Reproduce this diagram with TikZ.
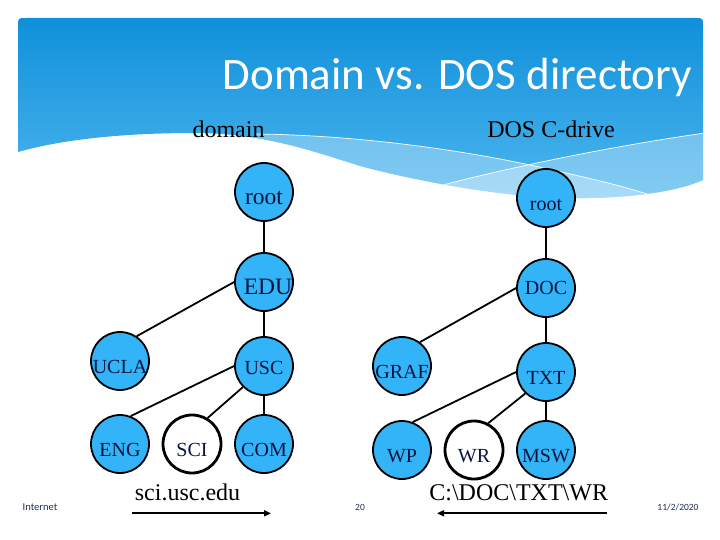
\documentclass[tikz,border=0pt]{standalone}
\usepackage{fontspec}
\setmainfont{Liberation Serif}
\newfontfamily\titlefont{Carlito}
\usetikzlibrary{arrows.meta}
\definecolor{nodeblue}{HTML}{33B4F8}
\definecolor{navy}{HTML}{0A1540}
\definecolor{hdrtop}{HTML}{1090DA}
\definecolor{hdrbot}{HTML}{4DB6EF}
\definecolor{footc}{HTML}{1F2F55}
\newcommand\fsA{\fontsize{23.5}{26}\selectfont}
\newcommand\fsB{\fontsize{20}{23}\selectfont}
\newcommand\fsC{\fontsize{24}{27}\selectfont}
\begin{document}
\begin{tikzpicture}[x=1pt,y=-1pt,
  dnode/.style={circle, draw=black, line width=1.8pt, fill=nodeblue, minimum size=58pt, inner sep=0pt},
  wnode/.style={dnode, fill=white, line width=2.8pt},
  lab/.style={text=navy, inner sep=0pt, yshift=-6pt, font=\fsB},
  labA/.style={lab, font=\fsA},
  edge/.style={line width=1.8pt},
  arr/.style={line width=1.8pt, -{Triangle[length=7pt,width=6pt]}},
  hdrlab/.style={anchor=base, font=\fsC, text=black, inner sep=0pt},
  foot/.style={font=\titlefont\fontsize{9.5}{11}\selectfont, text=footc, inner sep=0pt}
]
\useasboundingbox (0,0) rectangle (720,540);
\fill[white] (0,0) rectangle (720,540);

% header
\def\hdrpath{(18,152) -- (18,26) .. controls (18,18) .. (26,18) -- (695,18) .. controls (703,18) .. (703,26) -- (703,180)
  .. controls (670,195) and (610,199) .. (560,198)
  .. controls (500,196) and (420,182) .. (360,166)
  .. controls (310,150) and (260,133) .. (195,133)
  .. controls (120,133) and (60,140) .. (18,152) -- cycle}
\shade[top color=hdrtop, bottom color=hdrbot] \hdrpath;
\begin{scope}
  \clip \hdrpath;
  \fill[white, opacity=0.3] (255,134) .. controls (350,135) and (450,148) .. (530,165)
     .. controls (580,176) and (620,185) .. (650,195) -- (650,260) -- (255,260) -- cycle;
  \fill[white, opacity=0.3] (443,185) .. controls (500,170) and (600,148) .. (705,133)
     -- (705,260) -- (443,260) -- cycle;
  \draw[white, line width=0.7pt] (255,134) .. controls (350,135) and (450,148) .. (530,165)
     .. controls (580,176) and (620,185) .. (650,195);
  \draw[white, line width=0.7pt] (443,185) .. controls (500,170) and (600,148) .. (705,133);
\end{scope}

\node[anchor=base east, text=white, inner sep=0pt, font=\titlefont\fontsize{45}{50}\selectfont] (title) at (692,90) {Domain vs. DOS directory};
\node[hdrlab] (hdom) at (228.5,137.3) {domain};
\node[hdrlab] (hdos) at (551,137.3) {DOS C-drive};

% left tree
\node[dnode, label={[labA]center:root}] (r1) at (264,192) {};
\node[dnode, label={[labA, yshift=1pt, xshift=4pt]center:EDU}] (edu) at (264,282) {};
\node[dnode, label={[lab]center:UCLA}] (ucla) at (120,361) {};
\node[dnode, label={[lab, yshift=4.5pt]center:USC}] (usc) at (264,366) {};
\node[dnode, label={[lab]center:ENG}] (eng) at (120,444) {};
\node[wnode, label={[lab]center:SCI}] (sci) at (192,444) {};
\node[dnode, label={[lab]center:COM}] (com) at (264,444) {};

\draw[edge] (r1.south) -- (edu.north);
\draw[edge] (edu.west) -- (ucla.56);
\draw[edge] (edu.south) -- (usc.north);
\draw[edge] (usc.west) -- (eng.69);
\draw[edge] (usc.225) -- (sci.59);
\draw[edge] (usc.south) -- (com.north);

% right tree
\node[dnode, label={[lab, yshift=-0.5pt]center:root}] (r2) at (546,198) {};
\node[dnode, label={[lab, yshift=6pt]center:DOC}] (doc) at (546,288) {};
\node[dnode, label={[lab]center:GRAF}] (graf) at (402,366) {};
\node[dnode, label={[lab]center:TXT}] (txt) at (546,372) {};
\node[dnode, label={[lab, yshift=-0.5pt]center:WP}] (wp) at (402,450) {};
\node[wnode, label={[lab, yshift=-0.5pt]center:WR}] (wr) at (474,450) {};
\node[dnode, label={[lab, yshift=-0.5pt]center:MSW}] (msw) at (546,450) {};

\draw[edge] (r2.south) -- (doc.north);
\draw[edge] (doc.west) -- (graf.53);
\draw[edge] (doc.south) -- (txt.north);
\draw[edge] (txt.west) -- (wp.69);
\draw[edge] (txt.226) -- (wr.62);
\draw[edge] (txt.south) -- (msw.north);

% paths
\node[hdrlab] (p1) at (187.5,500) {sci.usc.edu};
\node[hdrlab] (p2) at (518.7,500) {C:\textbackslash DOC\textbackslash TXT\textbackslash WR};
\coordinate (a1s) at (132,513.3);
\coordinate (a1e) at (271,513.3);
\coordinate (a2s) at (607,513.3);
\coordinate (a2e) at (437,513.3);
\draw[arr] (a1s) -- (a1e);
\draw[arr] (a2s) -- (a2e);

% footer
\node[foot, font=\titlefont\fontsize{10.5}{12}\selectfont] (inet) at (40,507) {Internet};
\node[foot] (pg) at (360,507) {20};
\node[foot] (dt) at (678,507) {11/2/2020};
\end{tikzpicture}
\end{document}
